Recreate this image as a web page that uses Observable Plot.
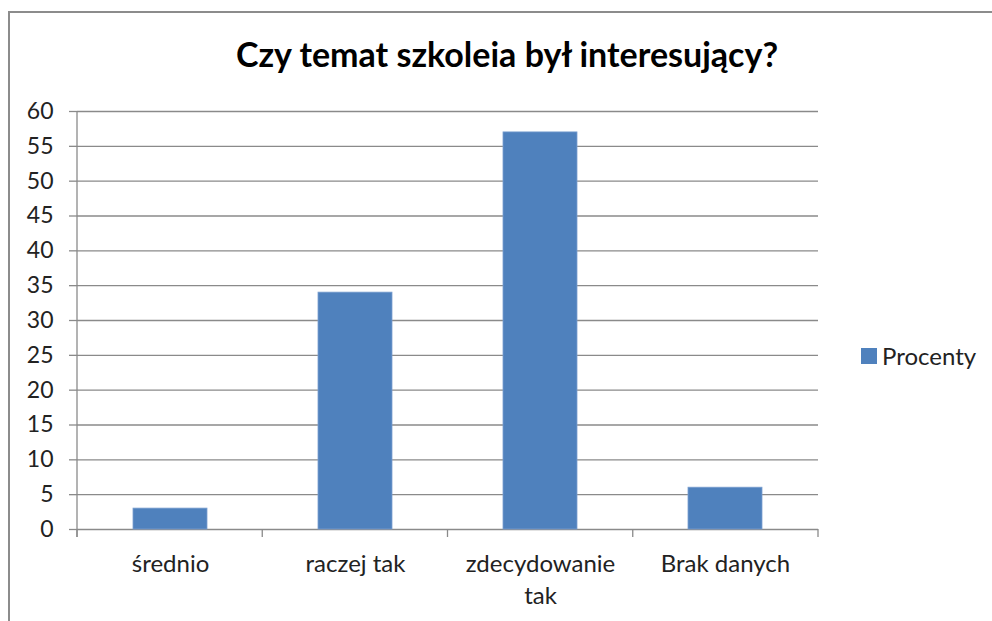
<!DOCTYPE html>
<html>
<head>
<meta charset="utf-8">
<script src="https://cdn.jsdelivr.net/npm/d3@7"></script>
<script src="https://cdn.jsdelivr.net/npm/@observablehq/plot@0.6"></script>
<style>
  html, body { margin: 0; padding: 0; background: #fff; }
  body { width: 992px; height: 621px; overflow: hidden; position: relative; font-family: Lato, "Open Sans", sans-serif; }
  #frame { position: absolute; left: 8px; top: 11px; width: 1000px; height: 700px; border-left: 2px solid #8c8c8c; border-top: 2px solid #8c8c8c; box-sizing: border-box; }
  #title { position: absolute; left: 0; width: 1014px; top: 34px; text-align: center; font-weight: bold; font-size: 34px; line-height: 40px; color: #000; white-space: nowrap; }
  #chart { position: absolute; left: 0; top: 0; }
  #legend { position: absolute; left: 861px; top: 341px; font-size: 24px; line-height: 30px; color: #222; display: flex; align-items: center; white-space: nowrap; }
  #legend .sw { width: 16px; height: 16px; background: #4F81BD; margin-right: 5px; }
</style>
</head>
<body>
<div id="frame"></div>
<div id="title">Czy temat szkoleia był interesujący?</div>
<div id="chart"></div>
<div id="legend"><span class="sw"></span><span id="legendLabel"></span></div>
<script>
const categories = ["średnio", "raczej tak", "zdecydowanie tak", "Brak danych"];
const categoryLabels = ["średnio", "raczej tak", "zdecydowanie\ntak", "Brak danych"];
const procenty = [3, 34, 57, 6];
const seriesName = "Procenty";
const yTicks = [0, 5, 10, 15, 20, 25, 30, 35, 40, 45, 50, 55, 60];

const data = categories.map((c, i) => ({category: c, value: procenty[i]}));
const labelOf = new Map(categories.map((c, i) => [c, categoryLabels[i]]));
document.getElementById("legendLabel").textContent = seriesName;

const W = 992, H = 621;
const mL = 77, mR = 174, mT = 111, mB = 92;
const grid = "#8a8a8a";

// category boundary ticks and left axis line, built from the scales
function boundaryTicks(index, scales, values, dims) {
  const g = d3.create("svg:g").attr("stroke", grid).attr("stroke-width", 1.3);
  const x0 = dims.marginLeft, x1 = dims.width - dims.marginRight;
  const y0 = scales.y(0), yTop = scales.y(d3.max(yTicks));
  const step = (x1 - x0) / categories.length;
  for (let i = 0; i <= categories.length; i++) {
    const b = x0 + i * step;
    g.append("line").attr("x1", b).attr("x2", b).attr("y1", y0).attr("y2", y0 + 8);
  }
  g.append("line").attr("x1", x0).attr("x2", x0).attr("y1", yTop).attr("y2", y0 + 8);
  return g.node();
}

const plot = Plot.plot({
  width: W,
  height: H,
  marginLeft: mL,
  marginRight: mR,
  marginTop: mT,
  marginBottom: mB,
  style: {fontFamily: "Lato, 'Open Sans', sans-serif", fontSize: "23px", color: "#222", background: "transparent"},
  x: {type: "band", domain: categories, paddingInner: 0.6, paddingOuter: 0.3, label: null},
  y: {domain: [0, 60], label: null},
  marks: [
    Plot.gridY(yTicks, {stroke: grid, strokeOpacity: 1, strokeWidth: 1.3}),
    Plot.barY(data, {x: "category", y: "value", fill: "#4F81BD", stroke: "#7a9fcf", strokeWidth: 0.8}),
    boundaryTicks,
    Plot.axisY({ticks: yTicks, tickSize: 8, tickPadding: 16, stroke: grid, strokeWidth: 1.3, fontSize: 23, fill: "#222", label: null}),
    Plot.axisX({tickSize: 0, tickPadding: 20, tickFormat: d => labelOf.get(d), fontSize: 24, fill: "#222", lineHeight: 1.33, label: null})
  ]
});
document.getElementById("chart").appendChild(plot);
</script>
</body>
</html>
